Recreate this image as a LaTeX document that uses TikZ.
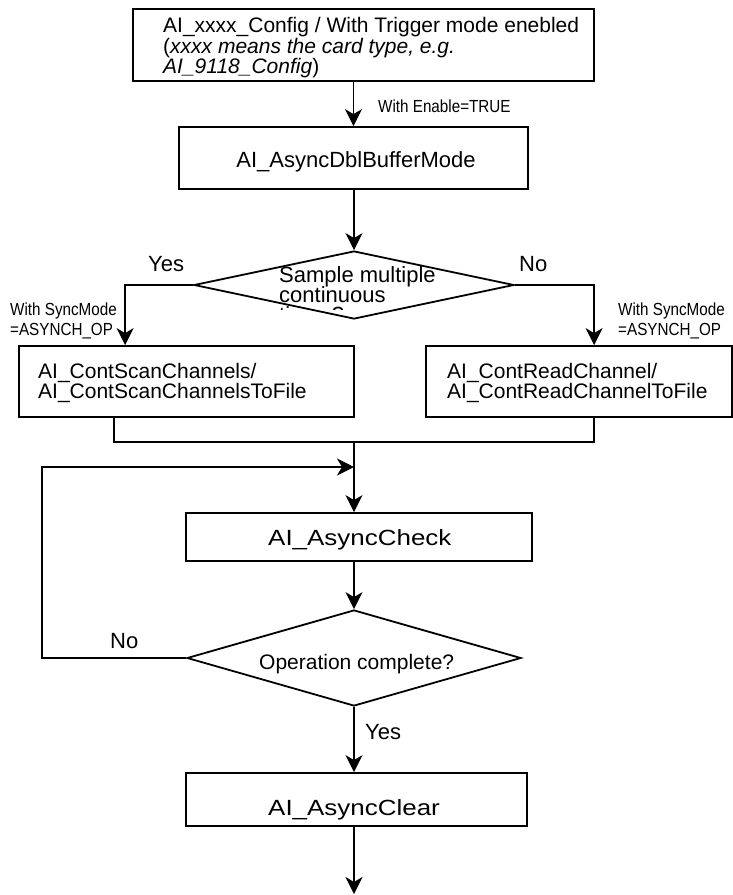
\documentclass[tikz,border=0pt]{standalone}
\usepackage{fontspec}
\setmainfont{Liberation Sans}
\usetikzlibrary{arrows.meta,shapes.geometric,calc}
\begin{document}
\begin{tikzpicture}[x=1pt,y=-1pt,
  box/.style={draw, line width=1.8pt, rectangle, inner sep=0pt},
  dia/.style={draw, line width=1.8pt, diamond, inner sep=0pt},
  conn/.style={line width=1.4pt},
  arr/.style={conn, -{Stealth[length=17pt,width=17pt,inset=5pt]}},
  big/.style={font=\fontsize{22}{20.5}\selectfont, inner sep=0pt},
  mid/.style={font=\fontsize{21}{20.5}\selectfont, inner sep=0pt},
  narrow/.style={font=\fontsize{17.5}{20}\selectfont, inner sep=0pt},
]
\useasboundingbox (0,0) rectangle (733,895);

% boxes and decisions
\node[box, minimum width=461pt, minimum height=72pt] (top) at (363.5,45) {};
\node[box, minimum width=349pt, minimum height=62pt] (b2) at (353.5,158) {};
\node[dia, minimum width=320pt, minimum height=68pt] (d1) at (354,285) {};
\node[box, minimum width=335pt, minimum height=71pt] (b3) at (186.5,381.5) {};
\node[box, minimum width=306pt, minimum height=71pt] (b4) at (579,381.5) {};
\node[box, minimum width=346pt, minimum height=48pt] (b5) at (359,537) {};
\node[dia, minimum width=334pt, minimum height=96pt] (d2) at (354,658) {};
\node[box, minimum width=341pt, minimum height=53pt] (b6) at (356.5,799.5) {};

% texts
\node[mid, anchor=base west] (t1) at (163,32) {AI\_xxxx\_Config / With Trigger mode enebled};
\node[mid, anchor=base west] (t2) at (163,53) {(\textit{xxxx means the card type, e.g.}};
\node[mid, anchor=base west] (t3) at (163,73) {\textit{AI\_9118\_Config})};
\node[narrow, anchor=base west] (en) at (378,112) {\scalebox{0.87}[1]{With Enable=TRUE}};
\node[big, anchor=base] (t4) at (356,167) {AI\_AsyncDblBufferMode};
\node[big, anchor=base west] (s1) at (279,282) {Sample multiple};
\node[big, anchor=base west] (s2) at (279,302) {continuous};
\begin{scope}
  \clip (250,251) rectangle (460,309.5);
  \node[big, anchor=base west] (s3) at (279,322) {times?};
\end{scope}
\node[big, anchor=base west] (yes1) at (148,271) {Yes};
\node[big, anchor=base west] (no1) at (519,271) {No};
\node[narrow, anchor=base west] (l1) at (10,315) {\scalebox{0.87}[1]{With SyncMode}};
\node[narrow, anchor=base west] (l2) at (10,335) {\scalebox{0.87}[1]{=ASYNCH\_OP}};
\node[narrow, anchor=base west] (r1) at (618,315) {\scalebox{0.87}[1]{With SyncMode}};
\node[narrow, anchor=base west] (r2) at (618,335) {\scalebox{0.87}[1]{=ASYNCH\_OP}};
\node[mid, anchor=base west] (c1) at (38,378) {AI\_ContScanChannels/};
\node[mid, anchor=base west] (c2) at (38,398) {AI\_ContScanChannelsToFile};
\node[mid, anchor=base west] (c3) at (447,378) {AI\_ContReadChannel/};
\node[mid, anchor=base west] (c4) at (447,398) {AI\_ContReadChannelToFile};
\node[big, anchor=base west] (t5) at (268,545) {\scalebox{1.18}[1]{AI\_AsyncCheck}};
\node[big, anchor=base west] (no2) at (110,648) {No};
\node[mid, anchor=base west] (t6) at (259,669) {Operation complete?};
\node[big, anchor=base west] (yes2) at (365,739) {Yes};
\node[big, anchor=base west] (t7) at (268,815) {\scalebox{1.18}[1]{AI\_AsyncClear}};

% connectors
\coordinate (m) at (354,442);
\coordinate (j) at (354,467);
\coordinate (lp) at (42,658);
\coordinate (fin) at (354,894);
\draw[arr] (b2.north |- top.south) -- (b2.north);
\draw[arr] (b2.south -| d1.north) -- (d1.north);
\draw[arr] (d1.west) -| ([xshift=107pt]b3.north west);
\draw[arr] (d1.east) -| ([xshift=169pt]b4.north west);
\draw[conn] ([xshift=96pt]b3.south west) |- (m) -| ([xshift=169pt]b4.south west);
\draw[arr] (m) -- (m |- b5.north);
\draw[arr] (d2.west) -- (lp) |- (j);
\draw[arr] (m |- b5.south) -- (d2.north);
\draw[arr] (d2.south) -- (d2.south |- b6.north);
\draw[arr] (d2.south |- b6.south) -- (fin);
\end{tikzpicture}
\end{document}
